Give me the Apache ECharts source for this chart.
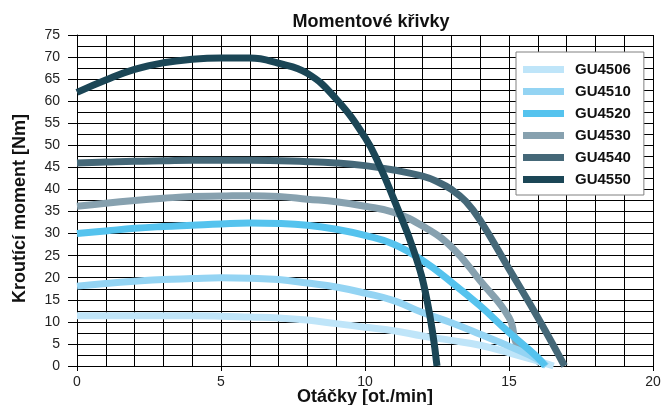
<!DOCTYPE html>
<html>
<head>
<meta charset="utf-8">
<script src="https://cdn.jsdelivr.net/npm/echarts@6/dist/echarts.min.js"></script>
<style>
	html, body { margin: 0; padding: 0; background: #fff; }
	#chart_panel { width: 663px; height: 405px; }
</style>
</head>
<body>
<div id="chart_panel"></div>
<script>
// data: [ot./min, Nm]
var seriesNames = ['GU4506', 'GU4510', 'GU4520', 'GU4530', 'GU4540', 'GU4550'];
var seriesColors = ['#bfe5f9', '#94d4f3', '#55c3ee', '#87a1af', '#456878', '#1b4656'];

var gu4506 = [[0,11.4],[2,11.4],[4,11.4],[5,11.3],[6,11.1],[7,10.9],[8,10.4],[9,9.6],[10,8.8],[11,8.0],[12,6.8],[13,5.8],[14,4.7],[15,3.0],[16,1.1],[16.55,0]];
var gu4510 = [[0,18.1],[1,18.7],[2,19.2],[3,19.6],[4,19.8],[5,20.0],[6,19.9],[7,19.6],[8,18.8],[9,17.9],[10,16.5],[11,14.8],[12,12.1],[13,9.8],[14,7.2],[15,4.5],[16,1.5],[16.3,0]];
var gu4520 = [[0,30.0],[1,30.6],[2,31.2],[3,31.6],[4,31.9],[5,32.2],[6,32.4],[7,32.3],[8,31.9],[9,31.0],[10,29.6],[11,27.6],[12,23.9],[13,19.0],[14,13.6],[15,7.6],[16,1.9],[16.25,0]];
var gu4530 = [[0,36.2],[1,36.9],[2,37.5],[3,38.0],[4,38.4],[5,38.5],[6,38.6],[7,38.4],[8,37.8],[9,37.2],[10,36.2],[11,34.8],[12,31.7],[13,27.0],[14,19.3],[15,11.0],[15.3,4.5],[15.7,3.0],[16.1,0.5]];
var gu4540 = [[0,46.0],[1,46.2],[2,46.4],[3,46.5],[4,46.6],[6,46.6],[8,46.3],[9,46.0],[10,45.4],[11,44.4],[12,43.0],[12.5,41.8],[13,40.0],[13.5,37.3],[14,33.0],[15,22.0],[16,11.0],[16.93,0]];
var gu4550 = [[0,62.0],[1,64.8],[2,67.2],[3,68.7],[4,69.5],[5,69.8],[6,69.8],[7,68.6],[8,66.3],[9,60.5],[10,51.8],[10.5,45.5],[11,37.8],[11.7,26.0],[12.15,15.0],[12.5,0]];

var dataArray = [gu4506, gu4510, gu4520, gu4530, gu4540, gu4550];
// drawing order (later on top)
var drawOrder = [3, 0, 1, 2, 4, 5];

var fontFam = '"Liberation Sans", Arial, sans-serif';

var myChart = echarts.init(document.getElementById('chart_panel'));

function getLineSeries(){
	var series = [];
	for(var k = 0; k < drawOrder.length; k++){
		var i = drawOrder[k];
		series.push({
			name: seriesNames[i],
			type: 'line',
			data: dataArray[i],
			color: seriesColors[i],
			symbol: 'none',
			smooth: 0.45,
			lineStyle: { width: 7, color: seriesColors[i] },
			z: 2 + k
		});
	}
	return series;
}

var option = {
	animation: false,
	backgroundColor: '#fff',
	title: {
		text: 'Momentové křivky',
		left: 366,
		textAlign: 'center',
		top: 8,
		textStyle: { fontFamily: fontFam, fontSize: 18, fontWeight: 'bold', color: '#111' }
	},
	legend: {
		data: seriesNames,
		orient: 'vertical',
		left: 516,
		top: 52,
		icon: 'rect',
		itemWidth: 41,
		itemHeight: 7,
		itemGap: 7,
		padding: [10, 13, 8, 7],
		backgroundColor: '#fff',
		borderColor: '#808080',
		borderWidth: 1,
		z: 20,
		textStyle: { fontFamily: fontFam, fontSize: 15, fontWeight: 'bold', color: '#111', lineHeight: 15, padding: [0, 0, 0, 6] }
	},
	grid: { left: 77, right: 10, top: 35, bottom: 39, containLabel: false, outerBoundsMode: 'none' },
	xAxis: {
		type: 'value',
		min: 0,
		max: 20,
		interval: 5,
		name: 'Otáčky [ot./min]',
		nameLocation: 'middle',
		nameGap: 22,
		nameMoveOverlap: false,
		nameTextStyle: { fontFamily: fontFam, fontSize: 18, fontWeight: 'bold', color: '#111' },
		axisLine: { show: true, lineStyle: { color: '#000', width: 1 } },
		axisTick: { show: true, length: 5, lineStyle: { color: '#000' } },
		axisLabel: { margin: 9, fontFamily: fontFam, fontSize: 14, color: '#222' },
		splitLine: { show: true, lineStyle: { color: '#000', width: 1 } },
		minorTick: { show: false, splitNumber: 5 },
		minorSplitLine: { show: true, lineStyle: { color: '#000', width: 1 } }
	},
	yAxis: {
		type: 'value',
		min: 0,
		max: 75,
		interval: 5,
		name: 'Kroutící moment [Nm]',
		nameLocation: 'middle',
		nameGap: 48,
		nameMoveOverlap: false,
		nameTextStyle: { fontFamily: fontFam, fontSize: 18, fontWeight: 'bold', color: '#111', padding: [0, 16, 0, 0] },
		axisLine: { show: true, lineStyle: { color: '#000', width: 1 } },
		axisTick: { show: true, length: 9, lineStyle: { color: '#000' } },
		axisLabel: { margin: 17, fontFamily: fontFam, fontSize: 14, color: '#222' },
		splitLine: { show: true, lineStyle: { color: '#000', width: 1 } },
		minorTick: { show: false, splitNumber: 2 },
		minorSplitLine: { show: true, lineStyle: { color: '#000', width: 1 } }
	},
	series: getLineSeries()
};

myChart.setOption(option, true);
</script>
</body>
</html>
